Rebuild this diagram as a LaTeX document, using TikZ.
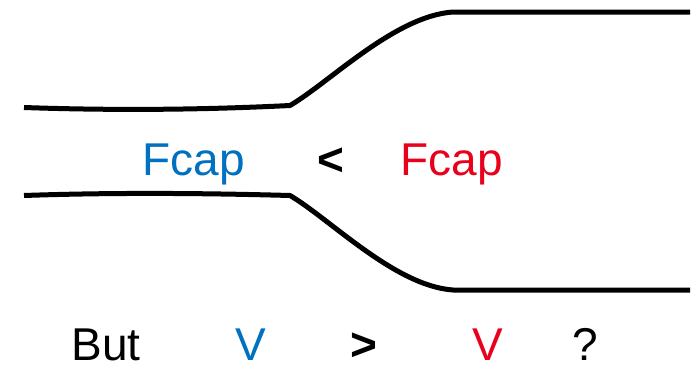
\documentclass[tikz,border=0pt]{standalone}
\usepackage{fontspec}
\setmainfont{Liberation Sans}
\definecolor{myblue}{RGB}{0,112,192}
\definecolor{myred}{RGB}{232,0,28}
\begin{document}
\begin{tikzpicture}[x=1pt,y=-1pt,
  wall/.style={line width=5pt,line join=round},
  lbl/.style={inner sep=0pt,font=\fontsize{46}{50}\selectfont},
  boldlbl/.style={inner sep=0pt,font=\fontsize{46}{50}\selectfont\bfseries}]
\useasboundingbox (0,0) rectangle (695,364);
\clip (0,0) rectangle (695,364);
\draw[wall] (24,107.5) .. controls (110,110.5) and (200,110) .. (290,105.5)
  .. controls (330,82) and (395,16) .. (453,12) -- (690,12);
\draw[wall] (24,195.5) .. controls (110,192.5) and (200,193) .. (290,195.5)
  .. controls (330,219) and (395,286) .. (453,290) -- (690,290);
\node[lbl,text=myblue,anchor=base] (f1) at (194,175) {Fcap};
\node[boldlbl,anchor=base] (lt) at (331,175) {<};
\node[lbl,text=myred,anchor=base] (f2) at (452,175) {Fcap};
\node[lbl,anchor=base] (but) at (106,360) {But};
\node[lbl,text=myblue,anchor=base] (v1) at (251,360) {V};
\node[boldlbl,anchor=base] (gt) at (364,360) {>};
\node[lbl,text=myred,anchor=base] (v2) at (488,360) {V};
\node[lbl,anchor=base] (q) at (585,360) {?};
\end{tikzpicture}
\end{document}
